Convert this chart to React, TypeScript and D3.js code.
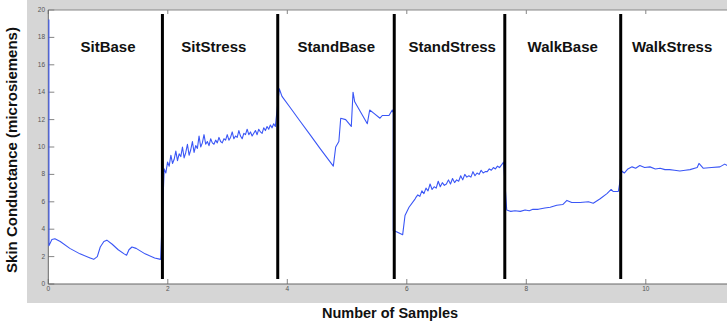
import React from "react";
import * as d3 from "d3";

const W = 727;
const H = 324;

// Tick values
const yTicks = [0, 2, 4, 6, 8, 10, 12, 14, 16, 18, 20];
const xTicks = [0, 2, 4, 6, 8, 10];

// Condition boundaries (sample units) and labels
const boundaries = [1.91, 3.84, 5.79, 7.64, 9.58];
const conditions = ["SitBase", "SitStress", "StandBase", "StandStress", "WalkBase", "WalkStress"];
const labelX = [1.0, 2.77, 4.82, 6.76, 8.61, 10.44];

// SitBase
const sitBase: [number, number][] = [
  [0.01, 19.3], [0.012, 2.8], [0.06, 3.25], [0.11, 3.3], [0.2, 3.1], [0.36, 2.6], [0.53, 2.2],
  [0.7, 1.9], [0.76, 1.8], [0.82, 2.0], [0.87, 2.7], [0.93, 3.1], [0.98, 3.2], [1.07, 2.9],
  [1.17, 2.5], [1.27, 2.2], [1.31, 2.1], [1.35, 2.5], [1.4, 2.7], [1.47, 2.6], [1.62, 2.2],
  [1.78, 1.9], [1.88, 1.8],
];

// SitStress (evenly spaced from 1.94 to 3.80)
const sitStressRange = [1.94, 3.8];
const sitStress = [
  8.4, 8.1, 8.9, 8.6, 9.4, 8.8, 9.1, 9.7, 9.0, 9.5, 9.3, 10.0, 9.2, 9.6, 10.2, 9.4, 9.8, 10.4,
  9.6, 10.1, 9.9, 10.8, 10.0, 10.3, 10.9, 10.2, 10.4, 10.1, 10.6, 10.3, 10.2, 10.5, 10.3, 10.7,
  10.4, 10.3, 10.6, 10.5, 10.9, 10.5, 10.7, 11.1, 10.6, 10.8, 10.7, 11.2, 10.8, 10.6, 11.0, 10.9,
  11.3, 10.9, 11.1, 10.8, 11.0, 11.2, 10.9, 11.3, 11.1, 11.0, 11.4, 11.2, 11.5, 11.3, 11.6, 11.4,
  11.7, 11.5,
];

// StandBase
const standBase: [number, number][] = [
  [3.866, 14.25], [3.911, 13.7], [4.045, 12.9], [4.212, 11.9], [4.38, 10.9], [4.547, 9.9],
  [4.77, 8.6], [4.81, 10.0], [4.863, 10.4], [4.894, 12.1], [4.977, 12.0], [5.071, 11.5],
  [5.1, 14.0], [5.128, 13.3], [5.339, 11.7], [5.379, 12.7], [5.451, 12.45], [5.551, 12.1],
  [5.59, 12.3], [5.702, 12.3], [5.757, 12.7], [5.774, 12.5],
];

// StandStress: initial dip, then evenly spaced from 6.15 to 7.62
const standStressStart: [number, number][] = [
  [5.774, 3.9], [5.836, 3.8], [5.931, 3.6], [5.97, 5.0], [6.037, 5.6], [6.137, 6.2],
];
const standStressRange = [6.15, 7.62];
const standStress = [
  6.3, 6.5, 6.4, 6.8, 6.6, 7.0, 6.8, 7.3, 6.9, 7.1, 7.0, 7.5, 7.1, 7.4, 7.2, 7.3, 7.6, 7.3, 7.7,
  7.4, 7.6, 7.5, 7.9, 7.6, 8.0, 7.8, 7.9, 7.8, 8.2, 7.9, 8.1, 8.0, 8.3, 8.1, 8.2, 8.2, 8.4, 8.3,
  8.5, 8.4, 8.6, 8.5, 8.7, 8.9,
];

// WalkBase
const walkBase: [number, number][] = [
  [7.672, 5.4], [7.74, 5.3], [7.81, 5.35], [7.9, 5.3], [7.98, 5.4], [8.05, 5.35], [8.11, 5.45],
  [8.2, 5.45], [8.31, 5.55], [8.4, 5.6], [8.51, 5.75], [8.61, 5.8], [8.68, 6.1], [8.76, 5.95],
  [8.9, 5.95], [9.04, 6.0], [9.12, 5.9], [9.23, 6.2], [9.35, 6.6], [9.42, 6.9], [9.456, 6.75],
  [9.54, 6.75],
];

// WalkStress
const walkStress: [number, number][] = [
  [9.597, 8.25], [9.64, 8.1], [9.7, 8.4], [9.77, 8.55], [9.83, 8.45], [9.9, 8.65], [9.98, 8.5],
  [10.07, 8.55], [10.16, 8.4], [10.24, 8.45], [10.32, 8.35], [10.4, 8.35], [10.48, 8.3],
  [10.57, 8.25], [10.66, 8.3], [10.74, 8.35], [10.86, 8.5], [10.89, 8.8], [10.96, 8.45],
  [11.1, 8.5], [11.24, 8.55], [11.32, 8.75], [11.41, 8.55],
];

function spread(range: number[], vals: number[]): [number, number][] {
  const n = vals.length;
  return vals.map((v, i) => [range[0] + ((range[1] - range[0]) * i) / (n - 1), v]);
}

export default function App() {
  const left = 48.3;
  const top = 10;
  const bottom = 284;
  const right = 745;
  const x = d3.scaleLinear().domain([0, (right - left) / 59.75]).range([left, right]);
  const y = d3.scaleLinear().domain([0, 20]).range([bottom, top]);

  const series: [number, number][] = [
    ...sitBase,
    ...spread(sitStressRange, sitStress),
    ...standBase,
    ...standStressStart,
    ...spread(standStressRange, standStress),
    ...walkBase,
    ...walkStress,
  ];
  const line = d3
    .line<[number, number]>()
    .x((d) => x(d[0]))
    .y((d) => y(d[1]));

  const font = "Arial, 'Liberation Sans', Helvetica, sans-serif";

  return (
    <svg
      width={W}
      height={H}
      style={{ position: "absolute", left: 0, top: 0, background: "#fff" }}
      fontFamily={font}
    >
      <rect x={27} y={0} width={W - 27} height={303} fill="#d6d6d6" />
      <rect x={left} y={top} width={right - left} height={bottom - top} fill="#fff" />
      <defs>
        <clipPath id="plot">
          <rect x={left - 1} y={top - 1} width={right - left + 1} height={bottom - top + 2} />
        </clipPath>
      </defs>

      {/* ticks */}
      {yTicks.map((t) => (
        <g key={"y" + t}>
          <line x1={left} x2={left + 6} y1={y(t)} y2={y(t)} stroke="#666" strokeWidth={0.8} />
          <text x={45} y={y(t) + 2} fontSize={6.5} textAnchor="end" fill="#555">
            {t}
          </text>
        </g>
      ))}
      {xTicks.map((t) => (
        <g key={"x" + t}>
          <line x1={x(t)} x2={x(t)} y1={bottom} y2={bottom - 5} stroke="#666" strokeWidth={0.8} />
          <line x1={x(t)} x2={x(t)} y1={top} y2={top + 4} stroke="#666" strokeWidth={0.8} />
          <text x={x(t)} y={291} fontSize={6.5} textAnchor="middle" fill="#555">
            {t}
          </text>
        </g>
      ))}

      {/* axes spines */}
      <line x1={left} x2={right} y1={top} y2={top} stroke="#888" strokeWidth={1} />
      <line x1={left} x2={right} y1={bottom} y2={bottom} stroke="#666" strokeWidth={1} />
      <line x1={left} x2={left} y1={top} y2={bottom} stroke="#666" strokeWidth={1} />

      <g clipPath="url(#plot)">
        <path d={line(series) || ""} fill="none" stroke="#3a56f6" strokeWidth={1.1} strokeLinejoin="round" />
      </g>

      {/* condition separators */}
      {boundaries.map((b) => (
        <line key={"b" + b} x1={x(b)} x2={x(b)} y1={14} y2={279} stroke="#000" strokeWidth={3} />
      ))}
      {conditions.map((c, i) => (
        <text key={c} x={x(labelX[i])} y={52} fontSize={15} fontWeight="bold" textAnchor="middle" fill="#111">
          {c}
        </text>
      ))}

      <text x={390} y={318} fontSize={14.5} fontWeight="bold" textAnchor="middle" fill="#111">
        Number of Samples
      </text>
      <text
        transform={`translate(17,150) rotate(-90)`}
        fontSize={15}
        fontWeight="bold"
        textAnchor="middle"
        fill="#111"
      >
        Skin Conductance (microsiemens)
      </text>
    </svg>
  );
}
